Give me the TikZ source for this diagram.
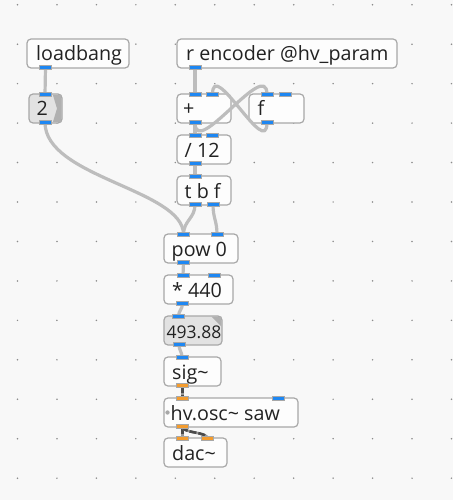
\documentclass[tikz,border=0pt]{standalone}
\usepackage{fontspec}
\setmainfont{Open Sans}
\definecolor{bgc}{HTML}{F8F8F8}
\definecolor{dotc}{HTML}{8C8C8C}
\definecolor{boxfill}{HTML}{FDFDFD}
\definecolor{boxline}{HTML}{A8A8A8}
\definecolor{numfill}{HTML}{E2E2E2}
\definecolor{numflag}{HTML}{B0B0B0}
\definecolor{pblue}{HTML}{1E87F2}
\definecolor{porange}{HTML}{F39C2F}
\definecolor{wirec}{HTML}{BDBDBD}
\definecolor{sigc}{HTML}{4A4A4A}
\definecolor{txtc}{HTML}{222222}
\pgfdeclarelayer{bg}
\pgfdeclarelayer{fg}
\pgfsetlayers{bg,main,fg}
\tikzset{
  objbox/.style={draw=boxline, fill=boxfill, line width=1.2pt, rounded corners=4pt, inner sep=0pt},
  numbox/.style={draw=boxline, fill=numfill, line width=1.2pt, rounded corners=4pt, inner sep=0pt},
  objtext/.style={anchor=base west, inner sep=0pt, text=txtc, font=\fontsize{19.7}{20}\selectfont},
  numtext/.style={anchor=base west, inner sep=0pt, text=txtc, font=\fontsize{17.5}{18}\selectfont},
  port/.style={rectangle, draw=boxline, line width=0.6pt, minimum width=12pt, minimum height=4.5pt, inner sep=0pt},
  cport/.style={port, fill=pblue},
  aport/.style={port, fill=porange},
  wire/.style={draw=wirec, line width=3.2pt},
  sigbase/.style={draw=wirec!80!black, line width=2.6pt},
  sigwire/.style={draw=sigc, line width=2.6pt, dash pattern=on 7pt off 2pt},
}
\newcommand{\pdobj}[8]{% style, name, l, t, r, b, text offset, text
  \node[#1, minimum width={#5-#3}, minimum height={#6-#4}] (#2) at ({(#3+#5)/2},{(#4+#6)/2}) {};
}
\newcommand{\pdtxt}[6]{% style, name, l, t, offset, text
  \node[#1] (#2-t) at ({#3+#5},{#4+22}) {#6};
}
\begin{document}
\begin{tikzpicture}[x=1pt,y=-1pt]
\begin{pgfonlayer}{bg}
\fill[bgc] (0,0) rectangle (453,500);
\foreach \i in {0,...,11}{
  \foreach \j in {0,...,12}{
    \fill[dotc] ({17.5+39.45*\i},{4.75+39.45*\j}) circle[radius=0.85pt];
  }
}
% boxes
\pdobj{objbox}{loadbang}{27}{39}{129}{68}{}{}
\pdobj{numbox}{num2}{29}{94}{62}{123}{}{}
\fill[numflag] (53,95.2) -- (61.3,95.2) -- (61.3,121.8) -- (53,121.8) -- (57,108.5) -- cycle;
\pdobj{objbox}{renc}{177}{39}{397}{68}{}{}
\pdobj{objbox}{plus}{177}{94}{231}{123}{}{}
\pdobj{objbox}{fbox}{249}{94}{304}{123}{}{}
\pdobj{objbox}{div}{177}{135}{231}{164}{}{}
\pdobj{objbox}{tbf}{177}{176}{231}{205}{}{}
\pdobj{objbox}{pow}{164}{234}{238}{263}{}{}
\pdobj{objbox}{mul}{164}{275}{233}{304}{}{}
\pdobj{numbox}{numf}{164}{316}{222}{345}{}{}
\fill[numflag] (211.5,316.7) -- (221.3,316.7) -- (221.3,326.5) -- cycle;
\pdobj{objbox}{sig}{164}{357}{221}{386}{}{}
\pdobj{objbox}{osc}{164}{398}{298}{427}{}{}
\fill[boxline] (167.5,412.5) circle[radius=2.2pt];
\pdobj{objbox}{dac}{164}{438}{227}{467}{}{}
% texts
\pdtxt{objtext}{loadbang}{27}{39}{9}{loadbang}
\pdtxt{objtext}{num2}{29}{94}{7.5}{2}
\pdtxt{objtext}{renc}{177}{39}{9}{r encoder @hv\_param}
\pdtxt{objtext}{plus}{177}{94}{6}{+}
\pdtxt{objtext}{fbox}{249}{94}{8.5}{f}
\pdtxt{objtext}{div}{177}{135}{7.5}{/ 12}
\pdtxt{objtext}{tbf}{177}{176}{7.5}{t b f}
\pdtxt{objtext}{pow}{164}{234}{7.5}{pow 0}
\pdtxt{objtext}{mul}{164}{275}{8}{* 440}
\pdtxt{numtext}{numf}{164}{316}{2.5}{493.88}
\pdtxt{objtext}{sig}{164}{357}{8}{sig\textasciitilde}
\pdtxt{objtext}{osc}{164}{398}{6.5}{hv.osc\textasciitilde{} saw}
\pdtxt{objtext}{dac}{164}{438}{8}{dac\textasciitilde}
\end{pgfonlayer}
\begin{pgfonlayer}{fg}
% ports
\node[cport] (loadbang-o) at (45.5,67.5) {};
\node[cport] (num2-i) at (45,94.5) {};
\node[cport] (num2-o) at (45,122.5) {};
\node[cport] (renc-o) at (195,67.5) {};
\node[cport] (plus-i1) at (195,94.5) {};
\node[cport] (plus-i2) at (212.5,94.5) {};
\node[cport] (plus-o) at (195,122.5) {};
\node[cport] (f-i1) at (267,94.5) {};
\node[cport] (f-i2) at (285,94.5) {};
\node[cport] (f-o) at (267,122.5) {};
\node[cport] (div-i1) at (195,135.5) {};
\node[cport] (div-i2) at (212,135.5) {};
\node[cport] (div-o) at (195,163.5) {};
\node[cport] (tbf-i) at (195,176.5) {};
\node[cport] (tbf-o1) at (195,204.5) {};
\node[cport] (tbf-o2) at (213,204.5) {};
\node[cport] (pow-i1) at (183.5,234.5) {};
\node[cport] (pow-i2) at (217,234.5) {};
\node[cport] (pow-o) at (183.5,262.5) {};
\node[cport] (mul-i1) at (183,275.5) {};
\node[cport] (mul-i2) at (214,275.5) {};
\node[cport] (mul-o) at (182.5,303.5) {};
\node[cport] (numf-i) at (178.5,316.5) {};
\node[cport] (numf-o) at (179,344.5) {};
\node[cport] (sig-i) at (182,357.5) {};
\node[aport] (sig-o) at (182.5,385.5) {};
\node[aport] (osc-i1) at (182.5,398.5) {};
\node[cport] (osc-i2) at (278.5,398.5) {};
\node[aport] (osc-o) at (182.5,426.5) {};
\node[aport] (dac-i1) at (182.5,438.5) {};
\node[aport] (dac-i2) at (207.5,438.5) {};
\end{pgfonlayer}
% control wires
\draw[wire] (loadbang-o.center) -- (num2-i.center);
\draw[wire] (num2-o.center) .. controls +(0,55) and +(0,-45) .. (pow-i1.center);
\draw[wire] (renc-o.center) -- (plus-i1.center);
\draw[wire] (plus-o.center) -- (div-i1.center);
\draw[wire] (plus-o.center) .. controls +(0,38) and +(0,-38) .. (f-i1.center);
\draw[wire] (f-o.center) .. controls +(0,38) and +(0,-38) .. (plus-i2.center);
\draw[wire] (div-o.center) -- (tbf-i.center);
\draw[wire] (tbf-o1.center) .. controls +(0,14) and +(0,-14) .. (pow-i1.center);
\draw[wire] (tbf-o2.center) .. controls +(0,14) and +(0,-14) .. (pow-i2.center);
\draw[wire] (pow-o.center) -- (mul-i1.center);
\draw[wire] (mul-o.center) .. controls +(0,6) and +(0,-6) .. (numf-i.center);
\draw[wire] (numf-o.center) .. controls +(0,6) and +(0,-6) .. (sig-i.center);
% signal wires
\draw[sigbase] (sig-o.center) -- (osc-i1.center);
\draw[sigwire] (sig-o.center) -- (osc-i1.center);
\draw[sigbase] (osc-o.center) -- (dac-i1.center);
\draw[sigwire] (osc-o.center) -- (dac-i1.center);
\draw[sigbase] (osc-o.center) .. controls +(0,7) and +(0,-7) .. (dac-i2.center);
\draw[sigwire] (osc-o.center) .. controls +(0,7) and +(0,-7) .. (dac-i2.center);
\end{tikzpicture}
\end{document}
